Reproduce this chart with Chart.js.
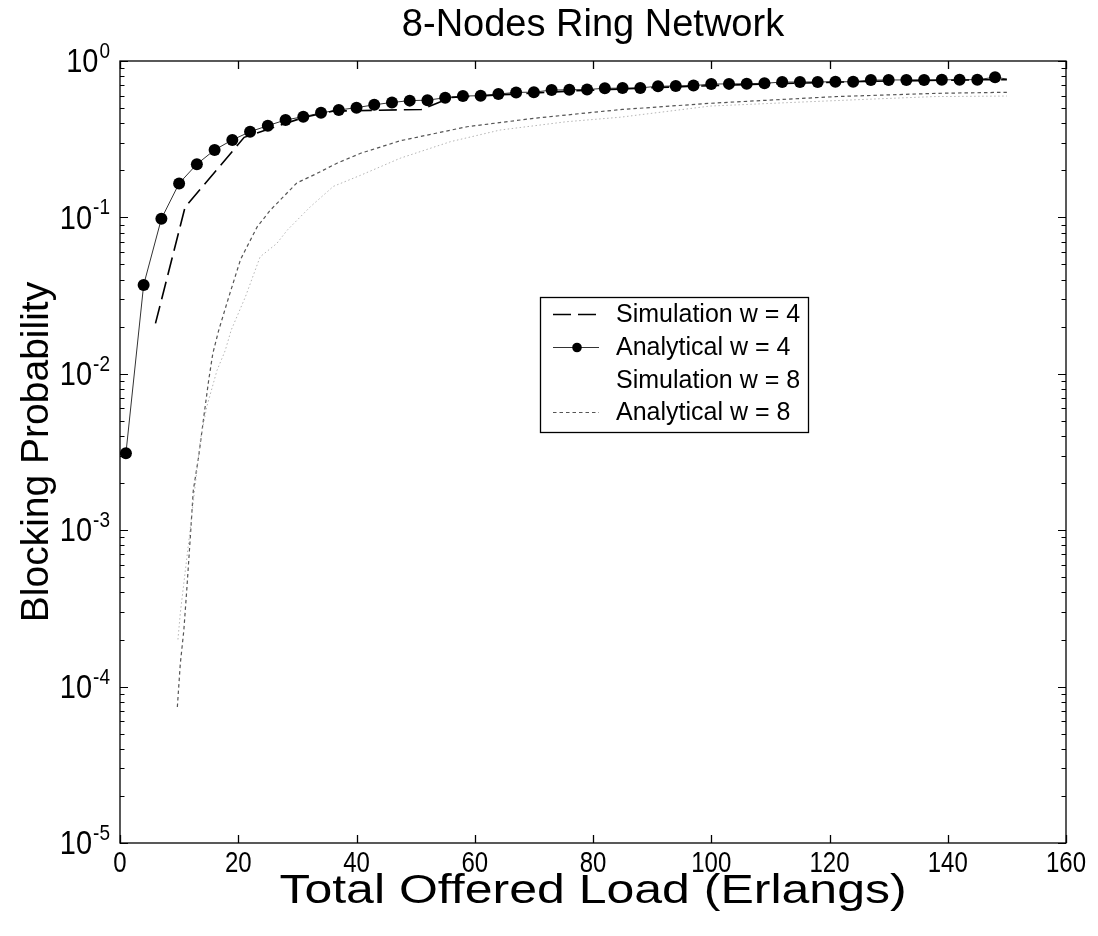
<!DOCTYPE html>
<html lang="en">
<head>
<meta charset="UTF-8">
<title>8-Nodes Ring Network</title>
<style>
  body { margin: 0; background: #fff; }
  #wrap { width: 1098px; height: 936px; }
</style>
<script src="https://cdn.jsdelivr.net/npm/chart.js"></script>
</head>
<body>
<div id="wrap"><canvas id="blockingChart" width="1098" height="936"></canvas></div>
<script>
// blocking probability vs total offered load (Erlangs), 8-node ring
const seriesLabels = ['Simulation w = 4', 'Analytical w = 4', 'Simulation w = 8', 'Analytical w = 8'];

const loadSimW4 = [6, 11, 21, 31, 36, 51, 56, 66, 76, 86, 96, 106, 116, 126, 136, 146, 150];
const probSimW4 = [0.021, 0.116, 0.325, 0.435, 0.478, 0.49, 0.585, 0.612, 0.642, 0.665, 0.688, 0.707, 0.724, 0.74, 0.75, 0.758, 0.76];

const loadAnaW4 = [1, 4, 7, 10, 13, 16, 19, 22, 25, 28,
                   31, 34, 37, 40, 43, 46, 49, 52, 55, 58,
                   61, 64, 67, 70, 73, 76, 79, 82, 85, 88,
                   91, 94, 97, 100, 103, 106, 109, 112, 115, 118,
                   121, 124, 127, 130, 133, 136, 139, 142, 145, 148, 150];
const probAnaW4 = [0.0031, 0.037, 0.098, 0.165, 0.219, 0.27, 0.313, 0.353, 0.386, 0.42,
                   0.44, 0.466, 0.486, 0.503, 0.525, 0.543, 0.558, 0.562, 0.582, 0.597,
                   0.6, 0.615, 0.63, 0.632, 0.652, 0.655, 0.657, 0.669, 0.671, 0.673,
                   0.69, 0.692, 0.696, 0.712, 0.714, 0.715, 0.721, 0.733, 0.734, 0.735,
                   0.736, 0.737, 0.755, 0.756, 0.757, 0.757, 0.758, 0.759, 0.76, 0.787, 0.767];

const loadSimW8 = [9.8, 10.2, 10.8, 11.6, 12.7, 13.6, 14.7, 16.4, 17.8, 18.8, 21.2, 23.7, 26.5, 28.3,
                   32.2, 36.1, 40.7, 47.4, 55.9, 64.3, 75.5, 84.6, 99.8, 115, 126.3, 137.6, 150];
const probSimW8 = [2.0e-4, 2.95e-4, 4.6e-4, 8.3e-4, 1.9e-3, 3.8e-3, 6.2e-3, 0.0105, 0.0141, 0.019, 0.031, 0.056, 0.068, 0.083,
                   0.117, 0.158, 0.186, 0.239, 0.305, 0.362, 0.409, 0.437, 0.515, 0.546, 0.569, 0.592, 0.597];

const loadAnaW8 = [9.7, 10.2, 10.8, 11.3, 11.9, 12.4, 13.3, 14.2, 15, 15.7, 16.7, 18.4, 20.4, 23.2,
                   25.4, 29.9, 33.3, 36.7, 40.7, 47.4, 58.7, 70, 81, 85, 100, 121, 138, 150];
const probAnaW8 = [7.4e-5, 1.4e-4, 2.3e-4, 4.2e-4, 9.1e-4, 1.8e-3, 2.95e-3, 5.4e-3, 9.1e-3, 0.0135, 0.019, 0.031, 0.054, 0.087,
                   0.111, 0.166, 0.191, 0.222, 0.257, 0.309, 0.38, 0.43, 0.474, 0.49, 0.537, 0.592, 0.621, 0.631];

const xTicks = [0, 20, 40, 60, 80, 100, 120, 140, 160];
const yExponents = [0, -1, -2, -3, -4, -5];

const FONT = "'Liberation Sans', Arial, Helvetica, sans-serif";

function pts(xs, ys) {
    return xs.map((x, i) => ({ x: x, y: ys[i] }));
}

// text with its own horizontal / vertical stretch
function stretchText(ctx, text, x, y, font, sx, sy, align, baseline) {
    ctx.save();
    ctx.translate(x, y);
    ctx.scale(sx, sy);
    ctx.font = font;
    ctx.textAlign = align;
    ctx.textBaseline = baseline;
    ctx.fillText(text, 0, 0);
    ctx.restore();
}

// box, inward ticks, labels, titles and the legend are drawn on top of the plot
const framePlugin = {
    id: 'frame',
    afterDraw(chart) {
        const ctx = chart.ctx;
        const a = chart.chartArea;
        const xs = chart.scales.x, ys = chart.scales.y;
        ctx.save();
        ctx.strokeStyle = '#000';
        ctx.lineWidth = 1.3;
        ctx.setLineDash([]);
        ctx.strokeRect(a.left, a.top, a.right - a.left, a.bottom - a.top);

        function seg(x1, y1, x2, y2) {
            ctx.beginPath();
            ctx.moveTo(x1, y1);
            ctx.lineTo(x2, y2);
            ctx.stroke();
        }

        // x ticks, bottom and top
        xTicks.forEach(v => {
            const px = Math.round(xs.getPixelForValue(v)) + 0.5;
            seg(px, a.bottom, px, a.bottom - 8);
            seg(px, a.top, px, a.top + 8);
        });

        // y ticks: decades plus minor 2..9
        ctx.lineWidth = 1;
        yExponents.forEach(e => {
            const py = Math.round(ys.getPixelForValue(Math.pow(10, e))) + 0.5;
            seg(a.left, py, a.left + 8, py);
            seg(a.right, py, a.right - 8, py);
            if (e > -5) {
                for (let m = 2; m <= 9; m++) {
                    const my = Math.round(ys.getPixelForValue(m * Math.pow(10, e - 1))) + 0.5;
                    seg(a.left, my, a.left + 4.5, my);
                    seg(a.right, my, a.right - 4.5, my);
                }
            }
        });

        ctx.fillStyle = '#000';

        // x tick labels
        xTicks.forEach(v => {
            stretchText(ctx, String(v), xs.getPixelForValue(v), a.bottom + 7, '24px ' + FONT, 1, 1.2, 'center', 'top');
        });

        // y tick labels as 10 with raised exponent
        yExponents.forEach(e => {
            const py = ys.getPixelForValue(Math.pow(10, e));
            const ex = String(e);
            ctx.font = '19px ' + FONT;
            const ew = ctx.measureText(ex).width;
            const right = a.left - 10;
            stretchText(ctx, ex, right, py - 3, '19px ' + FONT, 1, 1.15, 'right', 'alphabetic');
            stretchText(ctx, '10', right - ew - 1, py + 2, '29px ' + FONT, 1, 1.15, 'right', 'middle');
        });

        // title and axis titles
        stretchText(ctx, '8-Nodes Ring Network', (a.left + a.right) / 2, 26, '38px ' + FONT, 1, 1, 'center', 'middle');
        stretchText(ctx, 'Total Offered Load (Erlangs)', (a.left + a.right) / 2, 892, '40px ' + FONT, 1.25, 1, 'center', 'middle');
        ctx.save();
        ctx.translate(37, (a.top + a.bottom) / 2);
        ctx.rotate(-Math.PI / 2);
        stretchText(ctx, 'Blocking Probability', 0, 0, '39px ' + FONT, 1, 1, 'center', 'middle');
        ctx.restore();

        // legend box
        const lx = 540, ly = 297, lw = 268, lh = 135;
        ctx.fillStyle = '#fff';
        ctx.fillRect(lx, ly, lw, lh);
        ctx.strokeStyle = '#000';
        ctx.lineWidth = 1.3;
        ctx.strokeRect(lx + 0.5, ly + 0.5, lw, lh);
        const rowY = [314, 347, 380, 412];
        chart.data.datasets.forEach((ds, i) => {
            const y = rowY[i] + 0.5;
            if (ds.legendSample !== false) {
                ctx.strokeStyle = ds.borderColor;
                ctx.lineWidth = ds.borderWidth;
                ctx.setLineDash(ds.borderDash || []);
                seg(553, y, 599, y);
                ctx.setLineDash([]);
            }
            if (ds.legendMarker) {
                ctx.fillStyle = ds.pointBackgroundColor;
                ctx.beginPath();
                ctx.arc(577, y, 4.8, 0, Math.PI * 2);
                ctx.fill();
            }
            ctx.fillStyle = '#000';
            stretchText(ctx, ds.label, 616, rowY[i] + 1, '25px ' + FONT, 1, 1, 'left', 'middle');
        });
        ctx.restore();
    }
};

const chart = new Chart(document.getElementById('blockingChart'), {
    type: 'scatter',
    data: {
        datasets: [
            {
                label: seriesLabels[0],
                data: pts(loadSimW4, probSimW4),
                showLine: true,
                borderColor: '#000',
                borderWidth: 1.6,
                borderDash: [18, 7],
                pointRadius: 0
            },
            {
                label: seriesLabels[1],
                data: pts(loadAnaW4, probAnaW4),
                showLine: true,
                borderColor: '#333',
                borderWidth: 1,
                pointRadius: c => (c.raw && c.raw.x > 148.5) ? 0 : 6,
                pointBackgroundColor: '#000',
                pointBorderColor: '#000',
                pointBorderWidth: 0,
                legendMarker: true
            },
            {
                label: seriesLabels[2],
                data: pts(loadSimW8, probSimW8),
                showLine: true,
                borderColor: '#b4b4b4',
                borderWidth: 1,
                borderDash: [1.5, 2.5],
                pointRadius: 0,
                legendSample: false
            },
            {
                label: seriesLabels[3],
                data: pts(loadAnaW8, probAnaW8),
                showLine: true,
                borderColor: '#555',
                borderWidth: 1.2,
                borderDash: [3.5, 3],
                pointRadius: 0
            }
        ]
    },
    options: {
        responsive: false,
        animation: false,
        devicePixelRatio: 1,
        layout: { padding: { left: 120, top: 61, right: 32, bottom: 93 } },
        plugins: {
            legend: { display: false },
            title: { display: false },
            tooltip: { enabled: false }
        },
        scales: {
            x: { type: 'linear', min: 0, max: 160, display: false },
            y: { type: 'logarithmic', min: 1e-5, max: 1, display: false }
        }
    },
    plugins: [framePlugin]
});
</script>
</body>
</html>
